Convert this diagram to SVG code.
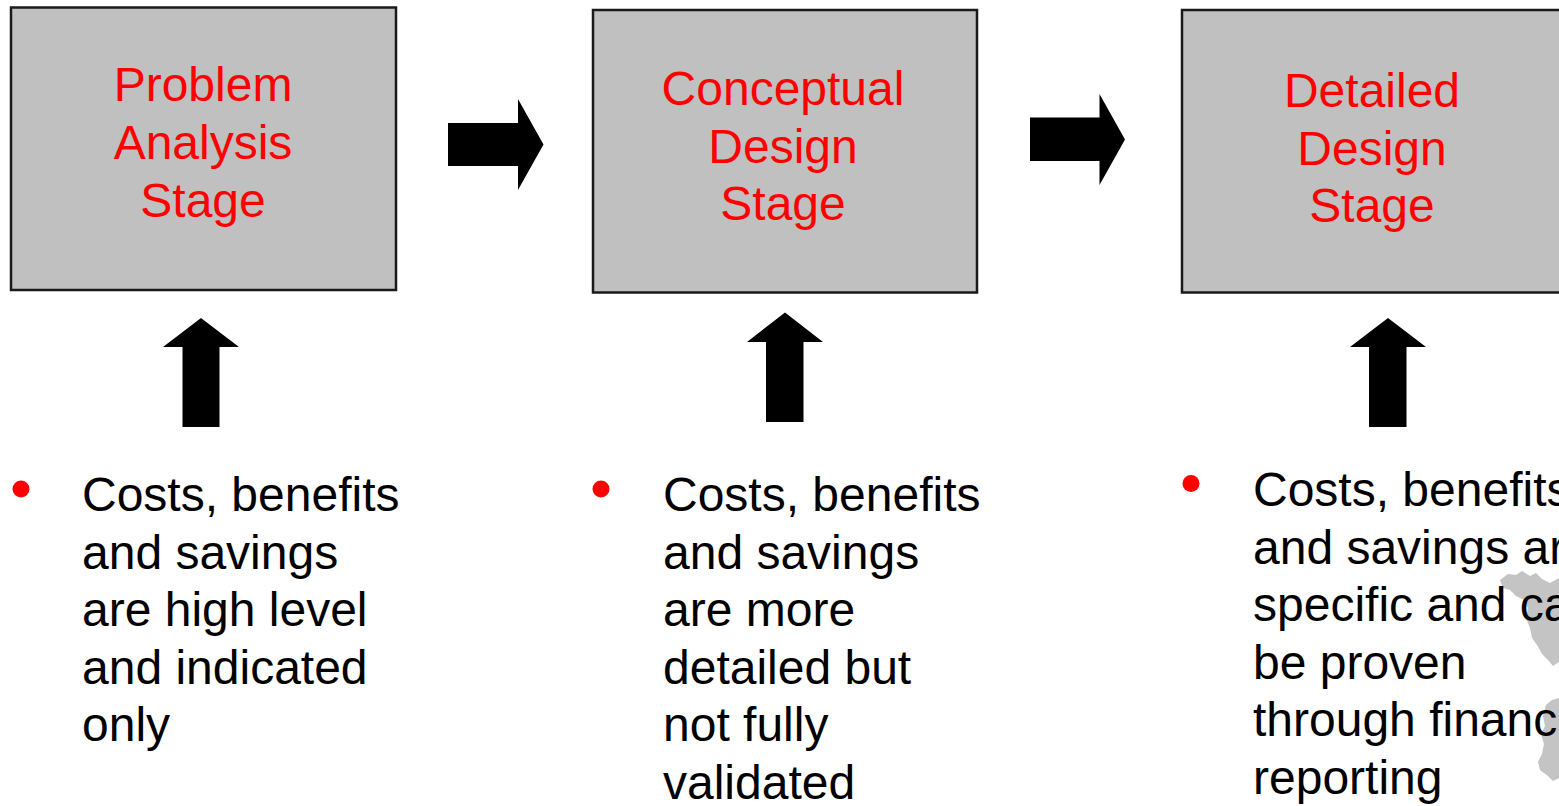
<svg xmlns="http://www.w3.org/2000/svg" width="1559" height="806" viewBox="0 0 1559 806">
<style>
.box{fill:#c0c0c0;stroke:#1a1a1a;stroke-width:2.5}
.title{font-family:"Liberation Sans",Arial,sans-serif;font-size:48px;fill:#ff0000;text-anchor:middle}
.body{font-family:"Liberation Sans",Arial,sans-serif;font-size:48px;fill:#000}
.arrow{fill:#000}
.bullet{fill:#ff0000}
.map{fill:#c4c4c4}
</style>
<rect width="1559" height="806" fill="#fff"/>
<g id="node-problem">
<rect class="box" x="11" y="7.5" width="385" height="282.5"/>
<text class="title" x="203" y="101">Problem</text>
<text class="title" x="203" y="159">Analysis</text>
<text class="title" x="203" y="217">Stage</text>
</g>
<g id="node-conceptual">
<rect class="box" x="593" y="10" width="384" height="282.5"/>
<text class="title" x="783" y="105">Conceptual</text>
<text class="title" x="783" y="163">Design</text>
<text class="title" x="783" y="220">Stage</text>
</g>
<g id="node-detailed">
<rect class="box" x="1182" y="10" width="390" height="282.5"/>
<text class="title" x="1372" y="107">Detailed</text>
<text class="title" x="1372" y="165">Design</text>
<text class="title" x="1372" y="222">Stage</text>
</g>
<g id="connectors">
<polygon class="arrow" points="448,123 518,123 518,99 543.5,144.5 518,190 518,166 448,166"/>
<polygon class="arrow" points="1030,117.5 1099.5,117.5 1099.5,94 1125,139.5 1099.5,185 1099.5,161 1030,161"/>
<polygon class="arrow" points="201,318 239,347 219.5,347 219.5,427 182.5,427 182.5,347 163,347"/>
<polygon class="arrow" points="785,312.5 823,342 803.5,342 803.5,422 766,422 766,342 747,342"/>
<polygon class="arrow" points="1388,318 1426,347 1406.5,347 1406.5,427 1369,427 1369,347 1350,347"/>
</g>
<g id="map-fragment">
<path class="map" d="M1500,580 L1508,574 L1516,575 L1522,571 L1530,576 L1536,573 L1542,579 L1550,583 L1559,578 L1559,662 L1553,666 L1548,660 L1542,654 L1537,645 L1532,638 L1530,628 L1526,618 L1528,608 L1524,600 L1516,596 L1510,590 L1503,588 Z"/>
<path class="map" d="M1546,705 L1552,700 L1559,698 L1559,778 L1553,781 L1548,776 L1540,770 L1538,762 L1542,754 L1544,744 L1541,734 L1545,726 L1543,716 Z"/>
</g>
<g id="note-1">
<circle class="bullet" cx="21" cy="489" r="8.5"/>
<text class="body" x="82" y="511">Costs, benefits</text>
<text class="body" x="82" y="568.6">and savings</text>
<text class="body" x="82" y="626.2">are high level</text>
<text class="body" x="82" y="683.8">and indicated</text>
<text class="body" x="82" y="741.4">only</text>
</g>
<g id="note-2">
<circle class="bullet" cx="601" cy="489" r="8.5"/>
<text class="body" x="663" y="511">Costs, benefits</text>
<text class="body" x="663" y="568.6">and savings</text>
<text class="body" x="663" y="626.2">are more</text>
<text class="body" x="663" y="683.8">detailed but</text>
<text class="body" x="663" y="741.4">not fully</text>
<text class="body" x="663" y="799">validated</text>
</g>
<g id="note-3">
<circle class="bullet" cx="1191" cy="483.5" r="8.5"/>
<text class="body" x="1253" y="506">Costs, benefits</text>
<text class="body" x="1253" y="563.6">and savings are</text>
<text class="body" x="1253" y="621.2">specific and can</text>
<text class="body" x="1253" y="678.8">be proven</text>
<text class="body" x="1253" y="736.4">through financial</text>
<text class="body" x="1253" y="794">reporting</text>
</g>
</svg>
